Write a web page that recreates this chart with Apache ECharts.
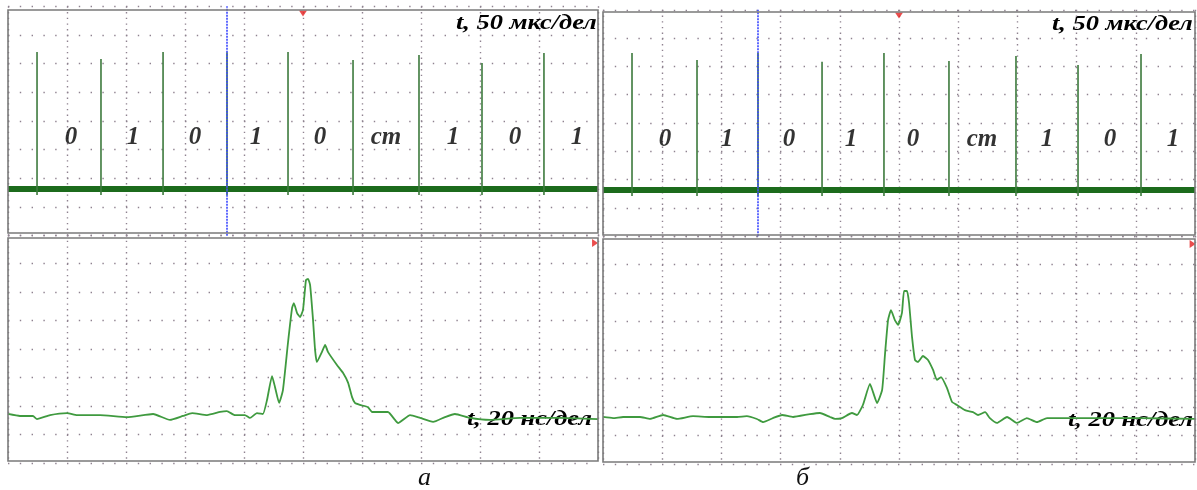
<!DOCTYPE html>
<html>
<head>
<meta charset="utf-8">
<script src="https://cdn.jsdelivr.net/npm/echarts@6/dist/echarts.min.js"></script>
<style>
  html, body { margin: 0; padding: 0; background: #fff; }
  #main { width: 1197px; height: 490px; }
</style>
</head>
<body>
<div id="main"></div>
<script>
// верхние осциллограммы: t в мкс, амплитуда в делениях
var spikeTimesA = [24.6, 78.8, 131.4, 185.6, 237.3, 292.4, 348.3, 401.7, 454.2];
var spikeTopsA  = [2.41, 2.16, 2.41, 2.40, 2.41, 2.13, 2.30, 2.02, 2.37];
var spikeTimesB = [24.5, 79.4, 130.9, 185.0, 237.3, 292.2, 348.8, 401.2, 454.4];
var spikeTopsB  = [2.47, 2.23, 2.47, 2.16, 2.47, 2.19, 2.37, 2.05, 2.44];
var spikeFoot = -2.58;
var baseLevel = -2.37;
var cursorA = 185.6, cursorB = 130.9;

var bitLabels   = ['0', '1', '0', '1', '0', 'ст', '1', '0', '1'];
var labelTimesA = [53.4, 105.9, 158.5, 210.2, 264.4, 320.3, 377.1, 429.7, 482.2];
var labelTimesB = [52.4, 104.7, 157.1, 209.5, 261.8, 320.1, 375.0, 428.2, 481.4];
var labelLevelA = -0.56, labelLevelB = -0.6;

// нижние осциллограммы: t в нс
var pulseTA = [0, 4.07, 8.47, 9.83, 14.24, 20.0, 23.4, 31.2, 40.3, 49.2, 54.9, 59.3, 62.4, 67.5, 71.9, 74.2, 76.9, 80.3, 82.0, 84.4, 86.4,
  87.8, 89.5, 90.5, 91.9, 93.2, 94.9, 96.3, 96.9, 98.0, 99.0, 100.0, 101.0, 101.7, 102.4, 103.4, 104.1, 104.7, 106.4, 107.5, 108.5,
  111.5, 113.6, 115.3, 116.6, 117.6, 119.3, 122.0, 123.4, 126.1, 128.8, 131.2, 132.2, 136.3, 139.7, 144.1, 148.1, 151.5, 156.6,
  163.4, 173.6, 187.1, 200];
var pulseVA = [-2.28, -2.35, -2.35, -2.46, -2.32, -2.25, -2.32, -2.32, -2.39, -2.28, -2.49, -2.35, -2.25, -2.32, -2.21, -2.18, -2.32, -2.32, -2.42, -2.25, -2.28,
  -1.79, -0.95, -1.33, -1.89, -1.44, 0.21, 1.44, 1.61, 1.26, 1.12, 1.37, 2.42, 2.46, 2.25, 1.02, -0.04, -0.46, -0.11, 0.14, -0.11,
  -0.56, -0.84, -1.19, -1.68, -1.89, -1.96, -2.04, -2.21, -2.21, -2.21, -2.49, -2.60, -2.32, -2.42, -2.56, -2.39, -2.28, -2.42,
  -2.49, -2.42, -2.42, -2.46];

var pulseTB = [0, 3.4, 6.8, 12.5, 15.9, 20.3, 25.0, 30.4, 36.1, 40.5, 45.3, 48.6, 52.0, 54.1, 57.4, 60.5, 64.2, 69.9, 73.3, 76.7, 78.4, 80.7, 84.1, 85.8,
  87.8, 90.2, 91.2, 92.6, 94.3, 95.3, 96.3, 97.3, 98.6, 99.7, 101.0, 101.7, 102.7, 103.4, 104.4, 105.4, 106.4, 108.1, 109.8,
  111.5, 112.8, 114.2, 116.2, 117.9, 119.6, 122.3, 125.0, 126.7, 129.1, 130.7, 133.1, 136.5, 139.9, 143.2, 146.6, 150.0,
  154.4, 167.9, 181.4, 200];
var pulseVB = [-2.35, -2.39, -2.35, -2.35, -2.42, -2.28, -2.42, -2.32, -2.35, -2.35, -2.35, -2.32, -2.42, -2.53, -2.39, -2.28, -2.35, -2.25, -2.21, -2.35, -2.42, -2.39, -2.21, -2.28,
  -1.93, -1.19, -1.47, -1.86, -1.40, -0.11, 1.05, 1.40, 1.05, 0.88, 1.30, 2.07, 2.07, 1.65, 0.46, -0.35, -0.42, -0.21, -0.35,
  -0.70, -1.05, -0.95, -1.33, -1.82, -1.93, -2.11, -2.18, -2.28, -2.18, -2.39, -2.56, -2.35, -2.56, -2.39, -2.53, -2.39,
  -2.39, -2.39, -2.39, -2.42];

var trigTop = [[250, 3.75], [250, 3.8]];
var trigSide = [[199, 3.72], [199.2, 3.72]];

function spikeData(times, tops) {
  var d = [];
  for (var i = 0; i < times.length; i++) {
    d.push([times[i], spikeFoot], [times[i], tops[i]], [times[i], '-']);
  }
  return d;
}
function zip(a, b) {
  return a.map(function (v, i) { return [v, b[i]]; });
}

var dotColor = '#8f8290';
function xAx(idx, max, interval) {
  return {
    type: 'value', gridIndex: idx, min: 0, max: max, interval: interval,
    axisLine: { show: false }, axisTick: { show: false }, axisLabel: { show: false },
    splitLine: { show: true, lineStyle: { color: dotColor, width: 1.4, type: [1.4, 4.3] } }
  };
}
function yAx(idx) {
  return {
    type: 'value', gridIndex: idx, min: -4, max: 4, interval: 1,
    axisLine: { show: false }, axisTick: { show: false }, axisLabel: { show: false },
    splitLine: { show: true, lineStyle: { color: dotColor, width: 1.4, type: [1.4, 10.4] } }
  };
}

var serif = '"Liberation Serif", "DejaVu Serif", serif';
function bitLabel() {
  return {
    show: true, position: 'inside', color: '#000', textBorderWidth: 0,
    fontFamily: serif, fontStyle: 'italic', fontWeight: 'bold', fontSize: 25,
    formatter: function (p) { return bitLabels[p.dataIndex]; }
  };
}
// подписи масштаба развёртки (растянуты по ширине как в оригинале)
function scaleText(txt, x, y) {
  return { type: 'group', left: x, top: y, z: 20, children: [
    { type: 'text', scaleX: 1.32, style: { text: txt, fill: '#000', font: 'italic bold 20px "Liberation Serif", serif' } } ] };
}
function frame(x, y, w, h) {
  return { type: 'rect', shape: { x: x, y: y, width: w, height: h },
    style: { fill: null, stroke: '#7a7a7a', lineWidth: 1.6 }, z: 10 };
}

var chart = echarts.init(document.getElementById('main'));
var option = {
  animation: false,
  backgroundColor: '#fff',
  title: [
    { text: 'а', left: 418, top: 465, padding: 0, textStyle: { fontFamily: serif, fontStyle: 'italic', fontWeight: 'normal', fontSize: 26, color: '#111' } },
    { text: 'б', left: 796, top: 465, padding: 0, textStyle: { fontFamily: serif, fontStyle: 'italic', fontWeight: 'normal', fontSize: 26, color: '#111' } }
  ],
  grid: [
    { left: 8, top: 6.3, width: 590, height: 229.4 },
    { left: 603, top: 9.8, width: 592, height: 226.4 },
    { left: 8, top: 235, width: 590, height: 228 },
    { left: 603, top: 236, width: 592, height: 228 }
  ],
  xAxis: [xAx(0, 500, 50), xAx(1, 500, 50), xAx(2, 200, 20), xAx(3, 200, 20)],
  yAxis: [yAx(0), yAx(1), yAx(2), yAx(3)],
  graphic: [
    frame(8, 10, 590, 223), frame(603, 12, 592, 223), frame(8, 238, 590, 223), frame(603, 239, 592, 223),
    scaleText('t, 50 мкс/дел', 456, 14),
    scaleText('t, 50 мкс/дел', 1052, 15),
    scaleText('t, 20 нс/дел', 467, 410),
    scaleText('t, 20 нс/дел', 1068, 411)
  ],
  series: [
    { type: 'line', xAxisIndex: 0, yAxisIndex: 0, data: [[0, baseLevel], [500, baseLevel]], symbol: 'none',
      lineStyle: { color: '#1c6b1c', width: 6 } },
    { type: 'line', xAxisIndex: 1, yAxisIndex: 1, data: [[0, baseLevel], [500, baseLevel]], symbol: 'none',
      lineStyle: { color: '#1c6b1c', width: 6 } },
    { type: 'line', xAxisIndex: 0, yAxisIndex: 0, data: spikeData(spikeTimesA, spikeTopsA), symbol: 'none',
      lineStyle: { color: '#3d7a3d', width: 1.6 },
      markLine: { silent: true, symbol: 'none', label: { show: false },
        lineStyle: { color: '#3a46ff', width: 1.6, type: [2, 1] }, data: [{ xAxis: cursorA }] } },
    { type: 'line', xAxisIndex: 1, yAxisIndex: 1, data: spikeData(spikeTimesB, spikeTopsB), symbol: 'none',
      lineStyle: { color: '#3d7a3d', width: 1.6 },
      markLine: { silent: true, symbol: 'none', label: { show: false },
        lineStyle: { color: '#3a46ff', width: 1.6, type: [2, 1] }, data: [{ xAxis: cursorB }] } },
    { type: 'scatter', xAxisIndex: 0, yAxisIndex: 0, symbolSize: 0,
      data: labelTimesA.map(function (t) { return [t, labelLevelA]; }), label: bitLabel() },
    { type: 'scatter', xAxisIndex: 1, yAxisIndex: 1, symbolSize: 0,
      data: labelTimesB.map(function (t) { return [t, labelLevelB]; }), label: bitLabel() },
    { type: 'line', xAxisIndex: 2, yAxisIndex: 2, data: zip(pulseTA, pulseVA), symbol: 'none', smooth: 0.15,
      lineStyle: { color: '#3f9a3f', width: 1.8 }, z: 1 },
    { type: 'line', xAxisIndex: 3, yAxisIndex: 3, data: zip(pulseTB, pulseVB), symbol: 'none', smooth: 0.15,
      lineStyle: { color: '#3f9a3f', width: 1.8 }, z: 1 },
    { type: 'scatter', xAxisIndex: 0, yAxisIndex: 0, data: [trigTop[0]], symbol: 'triangle', symbolRotate: 180, symbolSize: [8, 6],
      itemStyle: { color: '#e52020' } },
    { type: 'scatter', xAxisIndex: 1, yAxisIndex: 1, data: [trigTop[1]], symbol: 'triangle', symbolRotate: 180, symbolSize: [8, 6],
      itemStyle: { color: '#e52020' } },
    { type: 'scatter', xAxisIndex: 2, yAxisIndex: 2, data: [trigSide[0]], symbol: 'triangle', symbolRotate: -90, symbolSize: [8, 6],
      itemStyle: { color: '#e52020' } },
    { type: 'scatter', xAxisIndex: 3, yAxisIndex: 3, data: [trigSide[1]], symbol: 'triangle', symbolRotate: -90, symbolSize: [8, 6],
      itemStyle: { color: '#e52020' } }
  ]
};
chart.setOption(option);
</script>
</body>
</html>
